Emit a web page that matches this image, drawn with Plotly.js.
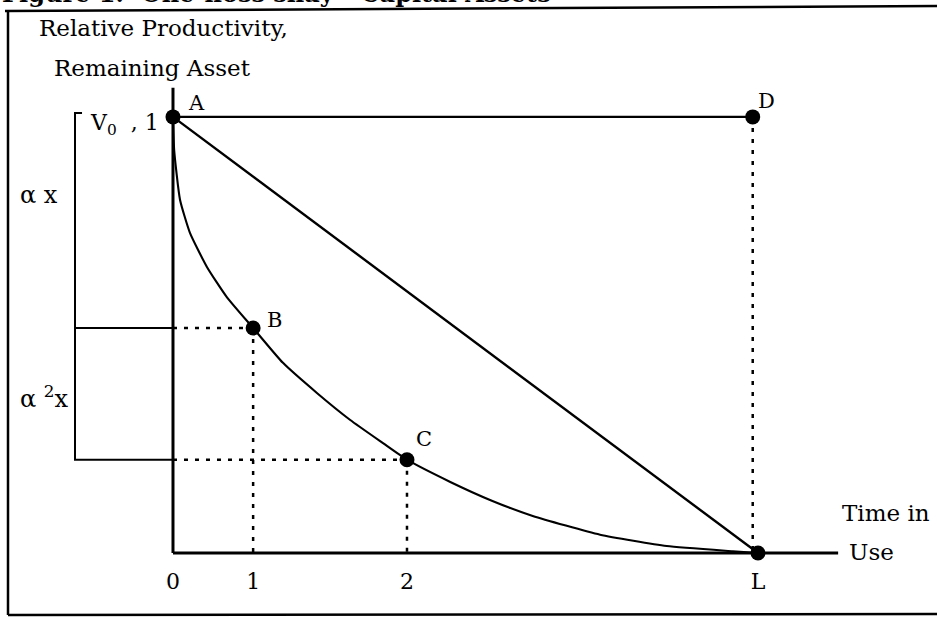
<!DOCTYPE html>
<html>
<head>
<meta charset="utf-8">
<script src="https://cdn.plot.ly/plotly-3.0.1.min.js"></script>
<style>html,body{margin:0;padding:0;background:#fff}#chart{width:937px;height:618px}</style>
</head>
<body>
<div id="chart"></div>
<script>
// ---- data (time in use, relative value) ----
const tickLabels = ['0', '1', '2', 'L'];
const tickTimes = [0, 1.37, 4.0, 10];      // positions of 0, 1, 2, L on the time axis
const pointNames = ['A', 'B', 'C', 'D', 'L'];
const pointT = [0, 1.37, 4.0, 9.91, 10];
const pointV = [1, 0.516, 0.214, 1, 0];
// declining-balance curve A -> B -> C -> L
const curveT = [0, 0.02, 0.12, 0.29, 0.58, 0.92, 1.37, 1.88, 2.46, 3.03, 3.59, 4.0, 4.74, 5.45, 6.15, 7.30, 8.44, 9.57, 10];
const curveV = [1, 0.924, 0.810, 0.734, 0.656, 0.587, 0.516, 0.436, 0.367, 0.305, 0.252, 0.214, 0.163, 0.120, 0.085, 0.042, 0.016, 0.004, 0];
const axisTopV = 1.067;
const axisEndT = 11.37;
const bracketT = -1.675;
const bracketTopV = 1.009;

const black = '#000';
const traces = [];
function line(x, y, w, dash) {
  traces.push({x: x, y: y, type: 'scatter', mode: 'lines', hoverinfo: 'skip',
    line: {color: black, width: w, dash: dash || 'solid'}, cliponaxis: false, showlegend: false});
}
// axes
line([0, 0], [0, axisTopV], 3);
line([0, axisEndT], [0, 0], 3);
// one-hoss shay A -> D and straight line A -> L
line([pointT[0], pointT[3]], [pointV[0], pointV[3]], 2.2);
line([pointT[0], pointT[4]], [pointV[0], pointV[4]], 2.4);
// declining curve
traces.push({x: curveT, y: curveV, type: 'scatter', mode: 'lines', hoverinfo: 'skip',
  line: {color: black, width: 2.1, shape: 'spline', smoothing: 0.5}, showlegend: false});
// dotted guides
const dots = '4px,7px';
line([0, pointT[1]], [pointV[1], pointV[1]], 2.5, dots);
line([pointT[1], pointT[1]], [pointV[1], 0], 2.5, dots);
line([0, pointT[2]], [pointV[2], pointV[2]], 2.5, dots);
line([pointT[2], pointT[2]], [pointV[2], 0], 2.5, dots);
line([pointT[3], pointT[3]], [pointV[3], 0], 2.5, dots);
// bracket on the left
line([bracketT + 0.12, bracketT, bracketT, 0], [bracketTopV, bracketTopV, pointV[2], pointV[2]], 2);
line([bracketT, 0], [pointV[1], pointV[1]], 2);
// points
traces.push({x: pointT, y: pointV, type: 'scatter', mode: 'markers', hoverinfo: 'skip',
  marker: {color: black, size: 15}, cliponaxis: false, showlegend: false});

const fam = 'DejaVu Serif, Liberation Serif, serif';
const font = {family: fam, size: 23, color: black};
function ann(text, x, y, xanchor, size) {
  return {text: text, x: x, y: y, xref: 'x', yref: 'y', showarrow: false,
    xanchor: xanchor || 'center', yanchor: 'middle',
    font: Object.assign({}, font, size ? {size: size} : {})};
}
const annotations = [
  ann('Relative Productivity,', -2.325, 1.204, 'left'),
  ann('Remaining Asset', -2.068, 1.112, 'left'),
  ann('A', 0.40, 1.032, 'center', 21),
  ann('D', 10.15, 1.037, 'center', 21),
  ann('B', 1.74, 0.534, 'center', 21),
  ann('C', 4.29, 0.262, 'center', 21),
  ann('V<sub>0</sub>  , 1', -0.21, 0.982, 'right', 22),
  ann('\u03b1 x', -2.65, 0.821, 'left', 24),
  ann('\u03b1 <sup>2</sup>x', -2.65, 0.358, 'left', 24),
  ann('Time in', 11.40, 0.092, 'left'),
  ann('Use', 11.52, 0.002, 'left'),
  {text: '<b>Figure 1:  One-hoss shay - Capital Assets</b>', xref: 'paper', yref: 'paper',
   x: 0, y: 1, xanchor: 'left', yanchor: 'bottom', yshift: -10, showarrow: false,
   font: {family: fam, size: 24, color: black}}
];

const xr = [-2.957, 13.06];
const yr = [-0.149, 1.268];
const frame = {color: black, width: 2.5};
const layout = {
  width: 937, height: 618,
  margin: {l: 0, r: 0, t: 0, b: 0, pad: 0},
  paper_bgcolor: '#fff', plot_bgcolor: '#fff',
  showlegend: false,
  xaxis: {range: xr, showgrid: false, zeroline: false, showline: false,
    anchor: 'free', position: (0 - yr[0]) / (yr[1] - yr[0]),
    tickmode: 'array', tickvals: tickTimes, ticktext: tickLabels,
    ticks: 'outside', ticklen: 9, tickcolor: 'rgba(0,0,0,0)',
    tickfont: {family: fam, size: 22, color: black}},
  yaxis: {range: yr, visible: false, showgrid: false, zeroline: false},
  annotations: annotations,
  shapes: [
    {type: 'line', xref: 'paper', yref: 'paper', x0: 8 / 937, x1: 8 / 937, y0: 1 - 10 / 618, y1: 1 - 615 / 618, line: frame},
    {type: 'line', xref: 'paper', yref: 'paper', x0: 5 / 937, x1: 1, y0: 1 - 11 / 618, y1: 1 - 6 / 618, line: frame},
    {type: 'line', xref: 'paper', yref: 'paper', x0: 8 / 937, x1: 1, y0: 1 - 615 / 618, y1: 1 - 614 / 618, line: frame}
  ]
};
Plotly.newPlot('chart', traces, layout, {staticPlot: true, displayModeBar: false});
</script>
</body>
</html>
